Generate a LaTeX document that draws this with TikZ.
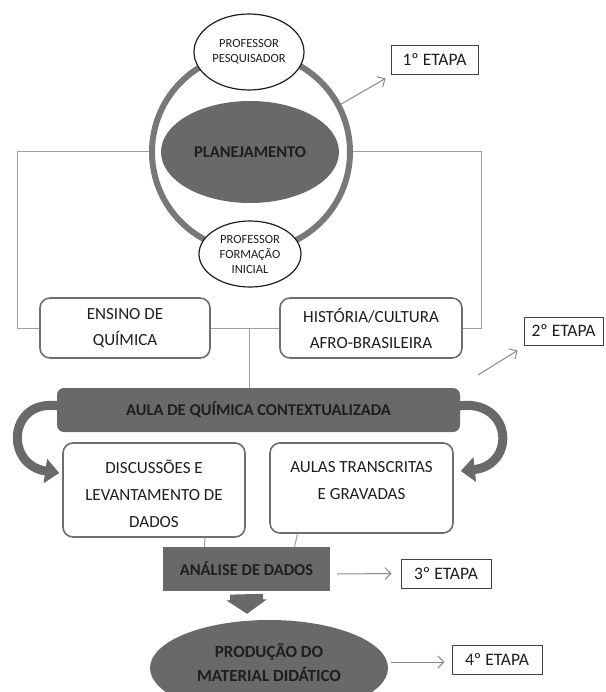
\documentclass[tikz,border=0pt]{standalone}
\usepackage{fontspec}
\setmainfont{Carlito}
\usetikzlibrary{shapes.geometric,arrows.meta,calc}
\definecolor{fillg}{HTML}{696969}
\definecolor{ringg}{HTML}{787878}
\definecolor{boxg}{HTML}{6E6E6E}
\definecolor{lineg}{HTML}{A0A0A0}
\definecolor{txt}{HTML}{1E1E1E}
\definecolor{arrg}{HTML}{8A8A8A}
\begin{document}
\begin{tikzpicture}[x=1pt,y=-1pt,
  wbox/.style={draw=boxg, line width=1.6pt, rounded corners=10pt, fill=white, align=center, text=txt, font=\fontsize{17}{26}\selectfont, inner sep=0pt},
  wtext/.style={align=center, text=txt, font=\fontsize{17}{27}\selectfont, inner sep=0pt},
  dbox/.style={fill=fillg, align=center, text=txt, font=\bfseries\fontsize{16.5}{24}\selectfont, inner sep=0pt},
  wellip/.style={ellipse, draw=txt, line width=1.2pt, fill=white, align=center, text=txt, font=\fontsize{12.5}{15}\selectfont, inner sep=0pt},
  etapa/.style={draw=black!75, line width=0.9pt, fill=white, text=txt, font=\fontsize{17.5}{20}\selectfont, inner sep=0pt},
  thinline/.style={draw=lineg, line width=1pt},
  garrow/.style={draw=arrg, line width=1pt, -{Straight Barb[length=6pt,width=12pt]}},
  curvarr/.style={draw=fillg, line width=9pt, -{Triangle[width=24pt,length=14pt]}},
]
\useasboundingbox (0,0) rectangle (605,692);

% ring and planning
\node[circle, draw=ringg, line width=6pt, minimum size=198pt, inner sep=0pt] (ring) at (251,152) {};
\node[ellipse, fill=fillg, minimum width=178pt, minimum height=102pt, inner sep=0pt,
      font=\bfseries\fontsize{16.5}{20}\selectfont, text=txt] (plan) at (250,152) {PLANEJAMENTO};
\node[wellip, minimum width=110pt, minimum height=76pt] (pesq) at (249,52) {PROFESSOR\\PESQUISADOR};
\node[wellip, minimum width=102pt, minimum height=66pt] (form) at (250,254) {PROFESSOR\\FORMAÇÃO\\INICIAL};

% etapa 1
\node[etapa, minimum width=87pt, minimum height=29pt] (e1) at (434.5,59.5) {1º ETAPA};
\draw[garrow] (ring.28) -- ($(e1.south west)+(-5,4)$);

% second level
\node[wbox, minimum width=170pt, minimum height=60pt] (ensino) at (125,328) {ENSINO DE\\QUÍMICA};
\node[wbox, minimum width=182pt, minimum height=60pt] (hist) at (371,328) {HISTÓRIA/CULTURA\\AFRO-BRASILEIRA};
\coordinate (lc) at (17,328);
\coordinate (rc) at (481,328);
\coordinate (mid) at (249,328);
\draw[thinline] (ring.west) -| (lc) -- (ensino.west);
\draw[thinline] (ring.east) -| (rc) -- (hist.east);
\draw[thinline] (ensino.east) -- (hist.west);

% etapa 2
\node[etapa, minimum width=79pt, minimum height=28pt] (e2) at (563.5,331) {2º ETAPA};
\coordinate (a2s) at (478,375);
\draw[garrow] (a2s) -- ($(e2.south west)+(-6,5)$);

% aula bar
\node[dbox, rounded corners=7pt, minimum width=403pt, minimum height=44pt,
      font=\bfseries\fontsize{16.5}{18}\selectfont] (aula) at (258.5,410) {AULA DE QUÍMICA CONTEXTUALIZADA};
\draw[thinline] (mid) -- (mid |- aula.north);

% third level boxes
\node[wbox, minimum width=182pt, minimum height=94pt] (disc) at (154,490) {};
\node[wtext] (disct) at (154,494) {DISCUSSÕES E\\LEVANTAMENTO DE\\DADOS};
\node[wbox, minimum width=183pt, minimum height=90pt] (aul) at (361.5,488) {};
\node[wtext] (ault) at (361.5,481) {AULAS TRANSCRITAS\\E GRAVADAS};

% curved arrows
\draw[curvarr] ($(aula.west)+(2,-4)$) .. controls (8,398) and (4,465) .. ($(disc.west)+(-3,-17)$);
\draw[curvarr] ($(aula.east)+(-2,-4)$) .. controls (512,398) and (517,465) .. ($(aul.east)+(7,-17)$);

% analise
\node[dbox, minimum width=167pt, minimum height=44pt] (analise) at (246.5,569) {ANÁLISE DE DADOS};
\draw[thinline] ($(disc.south)+(51,0)$) -- ($(analise.north)+(-42,0)$);
\draw[thinline] ($(aul.south)+(-64,0)$) -- ($(analise.north)+(48,0)$);

\node[etapa, minimum width=90pt, minimum height=29pt] (e3) at (446,573.5) {3º ETAPA};
\draw[garrow] ($(analise.east)+(7,5)$) -- ($(e3.west)+(-9,0)$);

% production
\node[ellipse, fill=fillg, minimum width=238pt, minimum height=96pt, inner sep=0pt] (prod) at (269,668) {};
\node[align=center, inner sep=0pt, font=\bfseries\fontsize{17}{24}\selectfont, text=txt] (prodt) at (269,663) {PRODUÇÃO DO\\MATERIAL DIDÁTICO};
\draw[draw=fillg, line width=33pt, -{Triangle[width=40pt,length=14pt]}] ($(analise.south)+(0,3)$) -- ($(prod.north)+(-22,-6)$);

\node[etapa, minimum width=90pt, minimum height=29pt] (e4) at (497,659.5) {4º ETAPA};
\draw[garrow] ($(prod.east)+(3,-6)$) -- ($(e4.west)+(-7,2.5)$);
\end{tikzpicture}
\end{document}
